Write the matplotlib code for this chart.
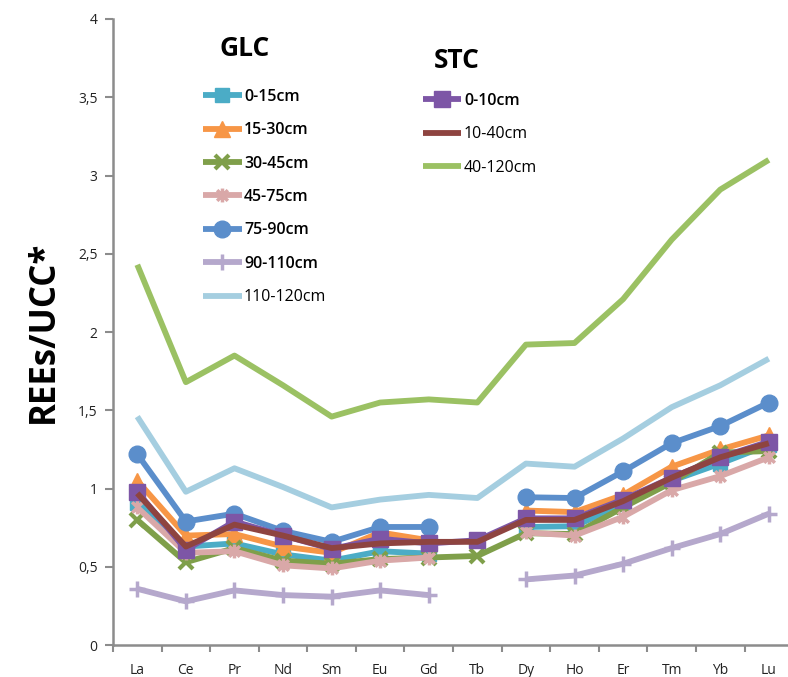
import numpy as np
import matplotlib
matplotlib.use('Agg')
import matplotlib.pyplot as plt
from matplotlib.path import Path
from matplotlib.ticker import FixedLocator, FuncFormatter

plt.rcParams['font.family'] = ['Open Sans', 'DejaVu Sans']

elements = ['La', 'Ce', 'Pr', 'Nd', 'Sm', 'Eu', 'Gd', 'Tb', 'Dy', 'Ho', 'Er', 'Tm', 'Yb', 'Lu']
nan = np.nan

# GLC profile
glc_0_15 = [0.91, 0.63, 0.65, 0.58, 0.54, 0.60, 0.585, nan, 0.755, 0.76, 0.90, 1.05, 1.16, 1.28]
glc_15_30 = [1.05, 0.70, 0.71, 0.63, 0.59, 0.72, 0.67, nan, 0.86, 0.85, 0.96, 1.14, 1.25, 1.34]
glc_30_45 = [0.80, 0.53, 0.62, 0.54, 0.52, 0.55, 0.56, 0.57, 0.715, 0.71, 0.88, 1.04, 1.23, 1.24]
glc_45_75 = [0.88, 0.59, 0.60, 0.51, 0.49, 0.54, 0.56, nan, 0.72, 0.70, 0.82, 0.99, 1.08, 1.20]
glc_75_90 = [1.22, 0.79, 0.84, 0.73, 0.66, 0.755, 0.755, nan, 0.945, 0.94, 1.11, 1.29, 1.40, 1.55]
glc_90_110 = [0.36, 0.28, 0.35, 0.32, 0.31, 0.35, 0.32, nan, 0.42, 0.445, 0.52, 0.62, 0.71, 0.84]
glc_110_120 = [1.46, 0.98, 1.13, 1.01, 0.88, 0.93, 0.96, 0.94, 1.16, 1.14, 1.32, 1.52, 1.66, 1.83]

# STC profile
stc_0_10 = [0.98, 0.61, 0.79, 0.70, 0.615, 0.68, 0.65, 0.67, 0.81, 0.81, 0.93, 1.07, 1.20, 1.30]
stc_10_40 = [0.97, 0.63, 0.77, 0.70, 0.62, 0.65, 0.66, 0.66, 0.80, 0.80, 0.92, 1.07, 1.20, 1.29]
stc_40_120 = [2.43, 1.68, 1.85, 1.66, 1.46, 1.55, 1.57, 1.55, 1.92, 1.93, 2.21, 2.59, 2.91, 3.10]

# excel-style star: an x with a vertical bar through it
star = Path([(-1, -1), (1, 1), (-1, 1), (1, -1), (0, -1.3), (0, 1.3)],
            [Path.MOVETO, Path.LINETO, Path.MOVETO, Path.LINETO, Path.MOVETO, Path.LINETO])

fig = plt.figure(figsize=(7.88, 6.77), dpi=100)
ax = fig.add_axes([0.1434, 0.047, 0.86, 0.925])

x = np.arange(len(elements))
lw = 4.2

glc = [
    (glc_0_15, '0-15cm', '#4BACC6', dict(marker='s', ms=10)),
    (glc_15_30, '15-30cm', '#F79646', dict(marker='^', ms=11)),
    (glc_30_45, '30-45cm', '#7F9F4A', dict(marker='x', ms=10, mew=3)),
    (glc_45_75, '45-75cm', '#D9A8A8', dict(marker=star, ms=10, mew=2.5, mfc='none')),
    (glc_75_90, '75-90cm', '#5B8ECB', dict(marker='o', ms=12)),
    (glc_90_110, '90-110cm', '#B5A8CC', dict(marker='+', ms=12, mew=2.5)),
    (glc_110_120, '110-120cm', '#A5CEE0', dict()),
]
stc = [
    (stc_0_10, '0-10cm', '#7D56A6', dict(marker='s', ms=12)),
    (stc_10_40, '10-40cm', '#8E4440', dict()),
    (stc_40_120, '40-120cm', '#9BC163', dict()),
]

glc_lines = []
for vals, lab, col, mk in glc:
    ln, = ax.plot(x, vals, color=col, lw=lw, label=lab, solid_capstyle='butt', **mk)
    glc_lines.append(ln)
stc_lines = []
for vals, lab, col, mk in stc:
    ln, = ax.plot(x, vals, color=col, lw=lw, label=lab, solid_capstyle='butt', **mk)
    stc_lines.append(ln)

ax.set_xlim(-0.5, 13.45)
ax.set_ylim(0, 4)
ax.set_yticks(np.arange(0, 4.01, 0.5))
ax.yaxis.set_major_formatter(FuncFormatter(lambda v, p: f'{v:g}'.replace('.', ',')))
ax.set_xticks(x)
ax.set_xticklabels(elements)
ax.xaxis.set_minor_locator(FixedLocator(np.arange(-0.5, 13.0, 1)))
ax.tick_params(axis='x', which='major', length=0, pad=13, labelsize=10, colors='#222222')
ax.tick_params(axis='x', which='minor', length=5, width=1.5, color='#8C8C8C')
ax.tick_params(axis='y', length=6, width=1.5, color='#8C8C8C', labelsize=10,
               labelcolor='#222222', pad=5)

for side in ('top', 'right'):
    ax.spines[side].set_visible(False)
for side in ('left', 'bottom'):
    ax.spines[side].set_color('#8C8C8C')
    ax.spines[side].set_linewidth(1.8)

ax.set_ylabel('REEs/UCC*', fontsize=25, fontweight='bold', family='Open Sans', labelpad=12)

leg_kw = dict(frameon=False, fontsize=11.5, handlelength=2.4, handletextpad=0.15,
              labelspacing=1.09, borderpad=0, borderaxespad=0, loc='upper left',
              bbox_transform=fig.transFigure)
leg1 = ax.legend(handles=glc_lines, bbox_to_anchor=(0.258, 0.869), **leg_kw)
for t in leg1.get_texts()[:6]:
    t.set_fontweight('semibold')
ax.add_artist(leg1)
leg2 = ax.legend(handles=stc_lines, bbox_to_anchor=(0.537, 0.863), **leg_kw)
leg2.get_texts()[0].set_fontweight('semibold')

fig.text(245 / 788, 1 - 48 / 677, 'GLC', fontsize=19, fontweight='bold', ha='center', va='center')
fig.text(457 / 788, 1 - 60 / 677, 'STC', fontsize=19, fontweight='bold', ha='center', va='center')

fig.savefig('out.png', dpi=100)
